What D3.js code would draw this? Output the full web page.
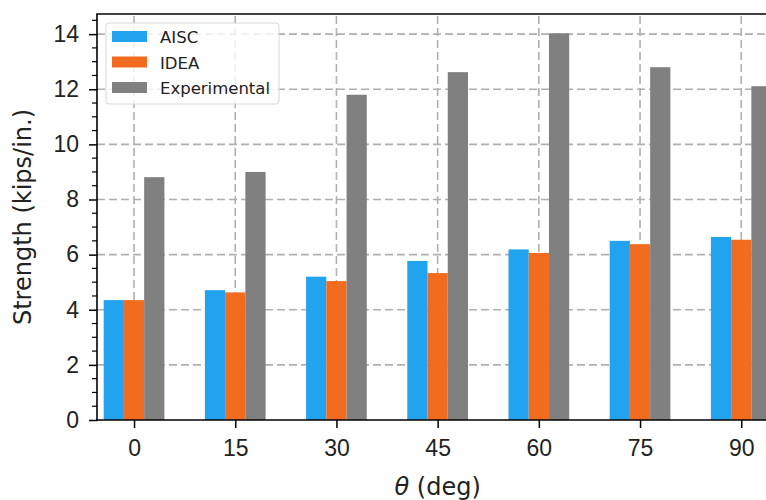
<!DOCTYPE html>
<html>
<head>
<meta charset="utf-8">
<script src="https://cdn.jsdelivr.net/npm/d3@7"></script>
<style>
  body { margin: 0; background: #fff; }
  svg { display: block; font-family: "DejaVu Sans", sans-serif; }
</style>
</head>
<body>
<svg id="chart" width="766" height="500"></svg>
<script>
// chart values
const angles = ["0", "15", "30", "45", "60", "75", "90"];
const aisc = [4.35, 4.71, 5.20, 5.77, 6.19, 6.50, 6.64];
const idea = [4.35, 4.63, 5.04, 5.33, 6.06, 6.38, 6.54];
const experimental = [8.81, 9.00, 11.80, 12.62, 14.03, 12.80, 12.11];
const seriesNames = ["AISC", "IDEA", "Experimental"];
const yTicks = [0, 2, 4, 6, 8, 10, 12, 14];

const colors = ["#22a3ef", "#f26c20", "#808080"];
const series = [aisc, idea, experimental];

const svg = d3.select("#chart");
const margin = { top: 14, left: 97, bottom: 80 };
const height = 500;

// plot extends past the right edge, like the cropped original
const x = d3.scaleLinear()
    .domain([-0.366, 6.9])
    .range([margin.left, margin.left + 7.266 * 101.2]);

const y = d3.scaleLinear()
    .domain([0, 14.73])
    .range([height - margin.bottom, margin.top]);

const barW = x(0.2) - x(0);

// grid
const grid = svg.append("g");
grid.selectAll("line.h")
    .data(yTicks.filter(d => d > 0))
    .enter().append("line")
    .attr("x1", margin.left).attr("x2", 766)
    .attr("y1", d => y(d)).attr("y2", d => y(d))
    .attr("stroke", "#b0b0b0").attr("stroke-width", 1.6)
    .attr("stroke-dasharray", "8,4");
grid.selectAll("line.v")
    .data(angles)
    .enter().append("line")
    .attr("x1", (d, i) => x(i)).attr("x2", (d, i) => x(i))
    .attr("y1", y(0)).attr("y2", margin.top)
    .attr("stroke", "#b0b0b0").attr("stroke-width", 1.6)
    .attr("stroke-dasharray", "8,4");

// bars
series.forEach((vals, s) => {
    svg.append("g")
        .selectAll("rect")
        .data(vals)
        .enter().append("rect")
        .attr("x", (d, i) => x(i + (s - 1) * 0.2 - 0.1))
        .attr("y", d => y(d))
        .attr("width", barW)
        .attr("height", d => y(0) - y(d))
        .attr("fill", colors[s]);
});

// y axis
const yAxis = d3.axisLeft(y).tickValues(yTicks).tickSize(8).tickPadding(10).tickFormat(d3.format("d"));
const gy = svg.append("g")
    .attr("transform", `translate(${margin.left},0)`)
    .call(yAxis);
gy.selectAll("text").style("font-size", "23px").attr("fill", "#222");
gy.selectAll("line").attr("stroke-width", 1.5);
gy.select(".domain").remove();

// minor ticks
svg.append("g")
    .selectAll("line")
    .data(d3.range(0, 14.6, 0.5).filter(d => d % 2 !== 0))
    .enter().append("line")
    .attr("x1", margin.left - 5).attr("x2", margin.left)
    .attr("y1", d => y(d)).attr("y2", d => y(d))
    .attr("stroke", "#000").attr("stroke-width", 1.2);

// x axis
const xAxis = d3.axisBottom(x).tickValues(d3.range(angles.length))
    .tickFormat(i => angles[i]).tickSize(8).tickPadding(12);
const gx = svg.append("g")
    .attr("transform", `translate(0,${y(0)})`)
    .call(xAxis);
gx.selectAll("text").style("font-size", "23px").attr("fill", "#222");
gx.selectAll("line").attr("stroke-width", 1.5);
gx.select(".domain").remove();

// spines
svg.append("line")
    .attr("x1", margin.left).attr("x2", margin.left)
    .attr("y1", margin.top).attr("y2", y(0) + 0.75)
    .attr("stroke", "#000").attr("stroke-width", 1.6);
svg.append("line")
    .attr("x1", margin.left - 0.75).attr("x2", 766)
    .attr("y1", y(0)).attr("y2", y(0))
    .attr("stroke", "#000").attr("stroke-width", 1.6);
svg.append("line")
    .attr("x1", margin.left - 0.75).attr("x2", 766)
    .attr("y1", margin.top).attr("y2", margin.top)
    .attr("stroke", "#000").attr("stroke-width", 1.6);

// axis labels
svg.append("text")
    .attr("transform", `translate(31,${(margin.top + y(0)) / 2}) rotate(-90)`)
    .attr("text-anchor", "middle")
    .style("font-size", "24px")
    .attr("fill", "#222")
    .text("Strength (kips/in.)");

const xl = svg.append("text")
    .attr("x", x(3))
    .attr("y", 495)
    .attr("text-anchor", "middle")
    .style("font-size", "24px")
    .attr("fill", "#222");
xl.append("tspan").style("font-style", "italic").text("θ");
xl.append("tspan").text(" (deg)");

// legend
const legend = svg.append("g").attr("transform", "translate(106,23)");
legend.append("rect")
    .attr("width", 173).attr("height", 81).attr("rx", 3)
    .attr("fill", "#fff").attr("fill-opacity", 0.8)
    .attr("stroke", "#d8d8d8").attr("stroke-width", 1);
seriesNames.forEach((name, i) => {
    legend.append("rect")
        .attr("x", 6).attr("y", 8 + i * 25.5)
        .attr("width", 35).attr("height", 11)
        .attr("fill", colors[i]);
    legend.append("text")
        .attr("x", 54).attr("y", 20 + i * 25.5)
        .style("font-size", "16.5px")
        .attr("fill", "#222")
        .text(name);
});
</script>
</body>
</html>
